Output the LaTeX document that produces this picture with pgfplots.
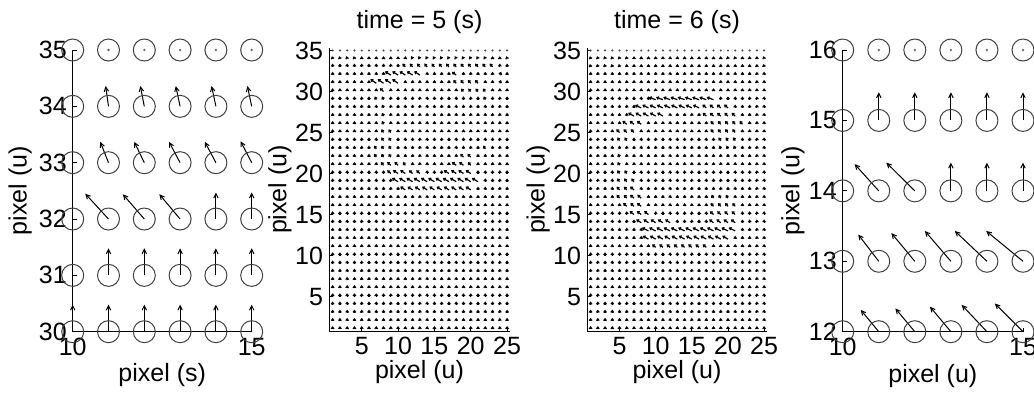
\documentclass[border=0pt]{standalone}
\usepackage{pgfplots}
\pgfplotsset{compat=1.18}
\usepackage{pgfplotstable}
\usepackage{fontspec}
\setmainfont{Liberation Sans}
\usetikzlibrary{arrows.meta}

\pgfplotsset{
  mat/.style={
    scale only axis,
    anchor=south west,
    axis lines*=left,
    tick pos=left,
    ticklabel pos=left,
    axis line style={line width=0.5pt},
    tick style={line width=0.4pt, black},
    major tick length=2pt,
    tick align=inside,
    clip=false,
    every axis title shift=0pt,
    /pgf/number format/assume math mode=true,
    tick label style={font=\fontsize{12.5}{14}\selectfont},
    label style={font=\fontsize{12.5}{14}\selectfont},
    title style={font=\fontsize{12.5}{14}\selectfont, at={(axis description cs:0.5,1.092)}, anchor=center},
    xticklabel style={inner sep=0pt, anchor=north, yshift=-3pt},
    yticklabel style={inner sep=0pt, anchor=east, xshift=-2.8pt},
  },
  circ/.style={only marks, mark=o, mark size=5.5pt, black!75, mark options={line width=0.5pt}},
  bigq/.style={quiver={u=\thisrow{u},v=\thisrow{v}}, -{Straight Barb[length=2.2pt,width=2.2pt]}, line width=0.5pt, black},
  smallq/.style={quiver={u=\thisrow{u},v=\thisrow{v}}, -{Straight Barb[length=0.9pt,width=1.4pt]}, line width=0.6pt, black},
}

% time = 5 field
\pgfplotstableread[row sep=\\]{x y u v\\
1 34 -.1 .3\\ 2 34 -.1 .3\\ 3 34 -.1 .3\\ 4 34 -.1 .3\\ 5 34 0 .3\\ 6 34 0 .3\\ 7 34 0 .3\\ 8 34 0 .3\\ 9 34 0 .3\\ 10 34 0 .3\\ 11 34 0 .3\\ 12 34 -.2 .3\\ 13 34 -.2 .3\\ 14 34 -.2 .3\\ 15 34 -.2 .3\\ 16 34 -.2 .3\\ 17 34 -.2 .3\\ 18 34 -.2 .3\\ 19 34 -.2 .3\\ 20 34 -.2 .3\\ 21 34 -.2 .3\\ 22 34 -.2 .3\\ 23 34 0 .3\\ 24 34 0 .3\\ 25 34 -.1 .3\\
1 33 0 .4\\ 2 33 0 .4\\ 3 33 0 .4\\ 4 33 0 .4\\ 5 33 0 .4\\ 6 33 0 .4\\ 7 33 0 .4\\ 8 33 0 .4\\ 9 33 0 .4\\ 10 33 0 .4\\ 11 33 -.4 .4\\ 12 33 -.4 .4\\ 13 33 -.4 .4\\ 14 33 -.4 .4\\ 15 33 -.4 .4\\ 16 33 -.4 .4\\ 17 33 -.4 .4\\ 18 33 -.4 .4\\ 19 33 -.4 .4\\ 20 33 -.4 .4\\ 21 33 -.4 .4\\ 22 33 -.4 .4\\ 23 33 -.4 .4\\ 24 33 0 .4\\ 25 33 0 .4\\
1 32 0 .4\\ 2 32 0 .4\\ 3 32 0 .4\\ 4 32 0 .4\\ 5 32 0 .4\\ 6 32 0 .4\\ 7 32 0 .4\\ 8 32 0 .4\\ 9 32 -.8 .45\\ 10 32 -.8 .45\\ 11 32 -.8 .45\\ 12 32 -.8 .45\\ 13 32 -.8 .45\\ 14 32 0 .4\\ 15 32 0 .4\\ 16 32 0 .4\\ 17 32 0 .4\\ 18 32 -.6 .4\\ 19 32 0 .4\\ 20 32 0 .4\\ 21 32 0 .4\\ 22 32 0 .4\\ 23 32 0 .4\\ 24 32 .2 .4\\ 25 32 0 .4\\
1 31 0 .4\\ 2 31 0 .4\\ 3 31 0 .4\\ 4 31 0 .4\\ 5 31 0 .4\\ 6 31 0 .4\\ 7 31 -.8 .5\\ 8 31 -.8 .5\\ 9 31 -.8 .5\\ 10 31 -.8 .5\\ 11 31 0 .4\\ 12 31 0 .4\\ 13 31 0 .4\\ 14 31 0 .4\\ 15 31 0 .4\\ 16 31 0 .4\\ 17 31 0 .4\\ 18 31 -.4 .4\\ 19 31 -.4 .4\\ 20 31 -.4 .4\\ 21 31 -.4 .4\\ 22 31 0 .4\\ 23 31 0 .4\\ 24 31 .15 .4\\ 25 31 0 .4\\
1 30 0 .4\\ 2 30 0 .4\\ 3 30 0 .4\\ 4 30 0 .4\\ 5 30 0 .4\\ 6 30 0 .4\\ 7 30 0 .4\\ 8 30 -.5 .4\\ 9 30 0 .4\\ 10 30 0 .4\\ 11 30 0 .4\\ 12 30 0 .4\\ 13 30 0 .4\\ 14 30 0 .4\\ 15 30 0 .4\\ 16 30 0 .4\\ 17 30 0 .4\\ 18 30 0 .4\\ 19 30 -.35 .35\\ 20 30 -.35 .35\\ 21 30 -.35 .35\\ 22 30 -.35 .35\\ 23 30 0 .4\\ 24 30 0 .4\\ 25 30 0 .4\\
1 29 0 .4\\ 2 29 0 .4\\ 3 29 0 .4\\ 4 29 0 .4\\ 5 29 0 .4\\ 6 29 0 .4\\ 7 29 -.2 .4\\ 8 29 -.2 .4\\ 9 29 0 .4\\ 10 29 0 .4\\ 11 29 0 .4\\ 12 29 0 .4\\ 13 29 0 .4\\ 14 29 0 .4\\ 15 29 0 .4\\ 16 29 0 .4\\ 17 29 0 .4\\ 18 29 0 .4\\ 19 29 0 .4\\ 20 29 0 .4\\ 21 29 0 .4\\ 22 29 -.2 .4\\ 23 29 0 .4\\ 24 29 0 .4\\ 25 29 0 .4\\
1 28 0 .4\\ 2 28 0 .4\\ 3 28 0 .4\\ 4 28 0 .4\\ 5 28 0 .4\\ 6 28 0 .4\\ 7 28 0 .4\\ 8 28 -.2 .4\\ 9 28 0 .4\\ 10 28 0 .4\\ 11 28 0 .4\\ 12 28 0 .4\\ 13 28 0 .4\\ 14 28 0 .4\\ 15 28 0 .4\\ 16 28 0 .4\\ 17 28 0 .4\\ 18 28 0 .4\\ 19 28 0 .4\\ 20 28 0 .4\\ 21 28 0 .4\\ 22 28 0 .4\\ 23 28 0 .4\\ 24 28 0 .4\\ 25 28 0 .4\\
1 27 0 .4\\ 2 27 0 .4\\ 3 27 0 .4\\ 4 27 0 .4\\ 5 27 0 .4\\ 6 27 0 .4\\ 7 27 0 .4\\ 8 27 -.2 .4\\ 9 27 0 .4\\ 10 27 0 .4\\ 11 27 0 .4\\ 12 27 0 .4\\ 13 27 0 .4\\ 14 27 0 .4\\ 15 27 0 .4\\ 16 27 0 .4\\ 17 27 0 .4\\ 18 27 0 .4\\ 19 27 0 .4\\ 20 27 0 .4\\ 21 27 0 .4\\ 22 27 0 .4\\ 23 27 0 .4\\ 24 27 0 .4\\ 25 27 0 .4\\
1 26 0 .4\\ 2 26 0 .4\\ 3 26 0 .4\\ 4 26 0 .4\\ 5 26 0 .4\\ 6 26 0 .4\\ 7 26 0 .4\\ 8 26 -.2 .4\\ 9 26 0 .4\\ 10 26 0 .4\\ 11 26 0 .4\\ 12 26 0 .4\\ 13 26 0 .4\\ 14 26 0 .4\\ 15 26 0 .4\\ 16 26 0 .4\\ 17 26 0 .4\\ 18 26 0 .4\\ 19 26 0 .4\\ 20 26 0 .4\\ 21 26 0 .4\\ 22 26 0 .4\\ 23 26 0 .4\\ 24 26 0 .4\\ 25 26 0 .4\\
1 25 0 .4\\ 2 25 0 .4\\ 3 25 0 .4\\ 4 25 0 .4\\ 5 25 0 .4\\ 6 25 0 .4\\ 7 25 0 .4\\ 8 25 -.3 .4\\ 9 25 -.3 .4\\ 10 25 0 .4\\ 11 25 0 .4\\ 12 25 0 .4\\ 13 25 0 .4\\ 14 25 0 .4\\ 15 25 0 .4\\ 16 25 0 .4\\ 17 25 0 .4\\ 18 25 0 .4\\ 19 25 0 .4\\ 20 25 0 .4\\ 21 25 0 .4\\ 22 25 0 .4\\ 23 25 0 .4\\ 24 25 0 .4\\ 25 25 0 .4\\
1 24 0 .4\\ 2 24 0 .4\\ 3 24 0 .4\\ 4 24 0 .4\\ 5 24 0 .4\\ 6 24 0 .4\\ 7 24 0 .4\\ 8 24 -.3 .4\\ 9 24 -.3 .4\\ 10 24 0 .4\\ 11 24 0 .4\\ 12 24 0 .4\\ 13 24 0 .4\\ 14 24 0 .4\\ 15 24 0 .4\\ 16 24 0 .4\\ 17 24 0 .4\\ 18 24 0 .4\\ 19 24 0 .4\\ 20 24 0 .4\\ 21 24 0 .4\\ 22 24 0 .4\\ 23 24 0 .4\\ 24 24 0 .4\\ 25 24 0 .4\\
1 23 0 .4\\ 2 23 0 .4\\ 3 23 0 .4\\ 4 23 0 .4\\ 5 23 0 .4\\ 6 23 0 .4\\ 7 23 -.3 .4\\ 8 23 -.3 .4\\ 9 23 -.3 .4\\ 10 23 0 .4\\ 11 23 0 .4\\ 12 23 0 .4\\ 13 23 0 .4\\ 14 23 0 .4\\ 15 23 0 .4\\ 16 23 0 .4\\ 17 23 0 .4\\ 18 23 0 .4\\ 19 23 0 .4\\ 20 23 0 .4\\ 21 23 0 .4\\ 22 23 -.3 .4\\ 23 23 0 .4\\ 24 23 0 .4\\ 25 23 0 .4\\
1 22 0 .4\\ 2 22 0 .4\\ 3 22 0 .4\\ 4 22 0 .4\\ 5 22 0 .4\\ 6 22 0 .4\\ 7 22 -.3 .4\\ 8 22 -.3 .4\\ 9 22 -.3 .4\\ 10 22 0 .4\\ 11 22 0 .4\\ 12 22 0 .4\\ 13 22 0 .4\\ 14 22 0 .4\\ 15 22 0 .4\\ 16 22 0 .4\\ 17 22 0 .4\\ 18 22 0 .4\\ 19 22 -.45 .4\\ 20 22 -.45 .4\\ 21 22 0 .4\\ 22 22 0 .4\\ 23 22 0 .4\\ 24 22 0 .4\\ 25 22 0 .4\\
1 21 0 .4\\ 2 21 0 .4\\ 3 21 0 .4\\ 4 21 0 .4\\ 5 21 0 .4\\ 6 21 0 .4\\ 7 21 0 .4\\ 8 21 -.35 .4\\ 9 21 -.5 .4\\ 10 21 -.5 .4\\ 11 21 -.35 .4\\ 12 21 0 .4\\ 13 21 0 .4\\ 14 21 0 .4\\ 15 21 0 .4\\ 16 21 0 .4\\ 17 21 0 .4\\ 18 21 -.6 .4\\ 19 21 -.6 .4\\ 20 21 -.4 .4\\ 21 21 0 .4\\ 22 21 0 .4\\ 23 21 0 .4\\ 24 21 0 .4\\ 25 21 0 .4\\
1 20 0 .4\\ 2 20 0 .4\\ 3 20 0 .4\\ 4 20 0 .4\\ 5 20 0 .4\\ 6 20 0 .4\\ 7 20 0 .4\\ 8 20 0 .4\\ 9 20 -.5 .4\\ 10 20 -.7 .4\\ 11 20 -.7 .4\\ 12 20 -.5 .4\\ 13 20 -.5 .4\\ 14 20 0 .4\\ 15 20 0 .4\\ 16 20 0 .4\\ 17 20 -.7 .4\\ 18 20 -.7 .4\\ 19 20 -.7 .4\\ 20 20 -.7 .4\\ 21 20 0 .4\\ 22 20 0 .4\\ 23 20 0 .4\\ 24 20 0 .4\\ 25 20 0 .4\\
1 19 0 .4\\ 2 19 0 .4\\ 3 19 0 .4\\ 4 19 0 .4\\ 5 19 0 .4\\ 6 19 0 .4\\ 7 19 0 .4\\ 8 19 0 .4\\ 9 19 0 .4\\ 10 19 -.85 .45\\ 11 19 -.85 .45\\ 12 19 -.85 .45\\ 13 19 -.85 .45\\ 14 19 -.85 .45\\ 15 19 -.85 .45\\ 16 19 -.85 .45\\ 17 19 -.85 .45\\ 18 19 -.85 .45\\ 19 19 -.85 .45\\ 20 19 -.85 .45\\ 21 19 -.85 .45\\ 22 19 0 .4\\ 23 19 0 .4\\ 24 19 0 .4\\ 25 19 0 .4\\
1 18 0 .4\\ 2 18 0 .4\\ 3 18 0 .4\\ 4 18 0 .4\\ 5 18 0 .4\\ 6 18 0 .4\\ 7 18 0 .4\\ 8 18 0 .4\\ 9 18 0 .4\\ 10 18 0 .4\\ 11 18 -.7 .4\\ 12 18 -.7 .4\\ 13 18 -.7 .4\\ 14 18 -.7 .4\\ 15 18 -.7 .4\\ 16 18 -.7 .4\\ 17 18 -.7 .4\\ 18 18 -.7 .4\\ 19 18 -.7 .4\\ 20 18 -.7 .4\\ 21 18 0 .4\\ 22 18 0 .4\\ 23 18 0 .4\\ 24 18 0 .4\\ 25 18 0 .4\\
1 17 0 .4\\ 2 17 0 .4\\ 3 17 0 .4\\ 4 17 0 .4\\ 5 17 0 .4\\ 6 17 0 .4\\ 7 17 0 .4\\ 8 17 0 .4\\ 9 17 0 .4\\ 10 17 0 .4\\ 11 17 0 .4\\ 12 17 0 .4\\ 13 17 0 .4\\ 14 17 0 .4\\ 15 17 0 .4\\ 16 17 0 .4\\ 17 17 0 .4\\ 18 17 0 .4\\ 19 17 0 .4\\ 20 17 0 .4\\ 21 17 0 .4\\ 22 17 0 .4\\ 23 17 0 .4\\ 24 17 0 .4\\ 25 17 0 .4\\
1 16 0 .4\\ 2 16 0 .4\\ 3 16 0 .4\\ 4 16 0 .4\\ 5 16 0 .4\\ 6 16 0 .4\\ 7 16 0 .4\\ 8 16 0 .4\\ 9 16 0 .4\\ 10 16 0 .4\\ 11 16 0 .4\\ 12 16 0 .4\\ 13 16 0 .4\\ 14 16 0 .4\\ 15 16 0 .4\\ 16 16 0 .4\\ 17 16 0 .4\\ 18 16 0 .4\\ 19 16 0 .4\\ 20 16 0 .4\\ 21 16 0 .4\\ 22 16 0 .4\\ 23 16 0 .4\\ 24 16 0 .4\\ 25 16 0 .4\\
1 15 0 .4\\ 2 15 0 .4\\ 3 15 0 .4\\ 4 15 0 .4\\ 5 15 0 .4\\ 6 15 0 .4\\ 7 15 0 .4\\ 8 15 0 .4\\ 9 15 0 .4\\ 10 15 0 .4\\ 11 15 0 .4\\ 12 15 0 .4\\ 13 15 0 .4\\ 14 15 0 .4\\ 15 15 0 .4\\ 16 15 0 .4\\ 17 15 0 .4\\ 18 15 0 .4\\ 19 15 0 .4\\ 20 15 0 .4\\ 21 15 0 .4\\ 22 15 0 .4\\ 23 15 0 .4\\ 24 15 0 .4\\ 25 15 0 .4\\
1 14 0 .4\\ 2 14 0 .4\\ 3 14 0 .4\\ 4 14 0 .4\\ 5 14 0 .4\\ 6 14 0 .4\\ 7 14 0 .4\\ 8 14 0 .4\\ 9 14 0 .4\\ 10 14 0 .4\\ 11 14 0 .4\\ 12 14 0 .4\\ 13 14 0 .4\\ 14 14 0 .4\\ 15 14 0 .4\\ 16 14 0 .4\\ 17 14 0 .4\\ 18 14 0 .4\\ 19 14 0 .4\\ 20 14 0 .4\\ 21 14 0 .4\\ 22 14 0 .4\\ 23 14 0 .4\\ 24 14 0 .4\\ 25 14 0 .4\\
1 13 0 .4\\ 2 13 0 .4\\ 3 13 0 .4\\ 4 13 0 .4\\ 5 13 0 .4\\ 6 13 0 .4\\ 7 13 0 .4\\ 8 13 0 .4\\ 9 13 0 .4\\ 10 13 0 .4\\ 11 13 0 .4\\ 12 13 0 .4\\ 13 13 0 .4\\ 14 13 0 .4\\ 15 13 0 .4\\ 16 13 0 .4\\ 17 13 0 .4\\ 18 13 0 .4\\ 19 13 0 .4\\ 20 13 0 .4\\ 21 13 0 .4\\ 22 13 0 .4\\ 23 13 0 .4\\ 24 13 0 .4\\ 25 13 0 .4\\
1 12 0 .4\\ 2 12 0 .4\\ 3 12 0 .4\\ 4 12 0 .4\\ 5 12 0 .4\\ 6 12 0 .4\\ 7 12 0 .4\\ 8 12 0 .4\\ 9 12 0 .4\\ 10 12 0 .4\\ 11 12 0 .4\\ 12 12 0 .4\\ 13 12 0 .4\\ 14 12 0 .4\\ 15 12 0 .4\\ 16 12 0 .4\\ 17 12 0 .4\\ 18 12 0 .4\\ 19 12 0 .4\\ 20 12 0 .4\\ 21 12 0 .4\\ 22 12 0 .4\\ 23 12 0 .4\\ 24 12 0 .4\\ 25 12 0 .4\\
1 11 0 .4\\ 2 11 0 .4\\ 3 11 0 .4\\ 4 11 0 .4\\ 5 11 0 .4\\ 6 11 0 .4\\ 7 11 0 .4\\ 8 11 0 .4\\ 9 11 0 .4\\ 10 11 0 .4\\ 11 11 0 .4\\ 12 11 0 .4\\ 13 11 0 .4\\ 14 11 0 .4\\ 15 11 0 .4\\ 16 11 0 .4\\ 17 11 0 .4\\ 18 11 0 .4\\ 19 11 0 .4\\ 20 11 0 .4\\ 21 11 0 .4\\ 22 11 0 .4\\ 23 11 0 .4\\ 24 11 0 .4\\ 25 11 0 .4\\
1 10 0 .4\\ 2 10 0 .4\\ 3 10 0 .4\\ 4 10 0 .4\\ 5 10 0 .4\\ 6 10 0 .4\\ 7 10 0 .4\\ 8 10 0 .4\\ 9 10 0 .4\\ 10 10 0 .4\\ 11 10 0 .4\\ 12 10 0 .4\\ 13 10 0 .4\\ 14 10 0 .4\\ 15 10 0 .4\\ 16 10 0 .4\\ 17 10 0 .4\\ 18 10 0 .4\\ 19 10 0 .4\\ 20 10 0 .4\\ 21 10 0 .4\\ 22 10 0 .4\\ 23 10 0 .4\\ 24 10 0 .4\\ 25 10 0 .4\\
1 9 0 .4\\ 2 9 0 .4\\ 3 9 0 .4\\ 4 9 0 .4\\ 5 9 0 .4\\ 6 9 0 .4\\ 7 9 0 .4\\ 8 9 0 .4\\ 9 9 0 .4\\ 10 9 0 .4\\ 11 9 0 .4\\ 12 9 0 .4\\ 13 9 0 .4\\ 14 9 0 .4\\ 15 9 0 .4\\ 16 9 0 .4\\ 17 9 0 .4\\ 18 9 0 .4\\ 19 9 0 .4\\ 20 9 0 .4\\ 21 9 0 .4\\ 22 9 0 .4\\ 23 9 0 .4\\ 24 9 0 .4\\ 25 9 0 .4\\
1 8 0 .4\\ 2 8 0 .4\\ 3 8 0 .4\\ 4 8 0 .4\\ 5 8 0 .4\\ 6 8 0 .4\\ 7 8 0 .4\\ 8 8 0 .4\\ 9 8 0 .4\\ 10 8 0 .4\\ 11 8 0 .4\\ 12 8 0 .4\\ 13 8 0 .4\\ 14 8 0 .4\\ 15 8 0 .4\\ 16 8 0 .4\\ 17 8 0 .4\\ 18 8 0 .4\\ 19 8 0 .4\\ 20 8 0 .4\\ 21 8 0 .4\\ 22 8 0 .4\\ 23 8 0 .4\\ 24 8 0 .4\\ 25 8 0 .4\\
1 7 0 .4\\ 2 7 0 .4\\ 3 7 0 .4\\ 4 7 0 .4\\ 5 7 0 .4\\ 6 7 0 .4\\ 7 7 0 .4\\ 8 7 0 .4\\ 9 7 0 .4\\ 10 7 0 .4\\ 11 7 0 .4\\ 12 7 0 .4\\ 13 7 0 .4\\ 14 7 0 .4\\ 15 7 0 .4\\ 16 7 0 .4\\ 17 7 0 .4\\ 18 7 0 .4\\ 19 7 0 .4\\ 20 7 0 .4\\ 21 7 0 .4\\ 22 7 0 .4\\ 23 7 0 .4\\ 24 7 0 .4\\ 25 7 0 .4\\
1 6 0 .4\\ 2 6 0 .4\\ 3 6 0 .4\\ 4 6 0 .4\\ 5 6 0 .4\\ 6 6 0 .4\\ 7 6 0 .4\\ 8 6 0 .4\\ 9 6 0 .4\\ 10 6 0 .4\\ 11 6 0 .4\\ 12 6 0 .4\\ 13 6 0 .4\\ 14 6 0 .4\\ 15 6 0 .4\\ 16 6 0 .4\\ 17 6 0 .4\\ 18 6 0 .4\\ 19 6 0 .4\\ 20 6 0 .4\\ 21 6 0 .4\\ 22 6 0 .4\\ 23 6 0 .4\\ 24 6 0 .4\\ 25 6 0 .4\\
1 5 0 .4\\ 2 5 0 .4\\ 3 5 0 .4\\ 4 5 0 .4\\ 5 5 0 .4\\ 6 5 0 .4\\ 7 5 0 .4\\ 8 5 0 .4\\ 9 5 0 .4\\ 10 5 0 .4\\ 11 5 0 .4\\ 12 5 0 .4\\ 13 5 0 .4\\ 14 5 0 .4\\ 15 5 0 .4\\ 16 5 0 .4\\ 17 5 0 .4\\ 18 5 0 .4\\ 19 5 0 .4\\ 20 5 0 .4\\ 21 5 0 .4\\ 22 5 0 .4\\ 23 5 0 .4\\ 24 5 0 .4\\ 25 5 0 .4\\
1 4 0 .4\\ 2 4 0 .4\\ 3 4 0 .4\\ 4 4 0 .4\\ 5 4 0 .4\\ 6 4 0 .4\\ 7 4 0 .4\\ 8 4 0 .4\\ 9 4 0 .4\\ 10 4 0 .4\\ 11 4 0 .4\\ 12 4 0 .4\\ 13 4 0 .4\\ 14 4 0 .4\\ 15 4 0 .4\\ 16 4 0 .4\\ 17 4 0 .4\\ 18 4 0 .4\\ 19 4 0 .4\\ 20 4 0 .4\\ 21 4 0 .4\\ 22 4 0 .4\\ 23 4 0 .4\\ 24 4 0 .4\\ 25 4 0 .4\\
1 3 0 .4\\ 2 3 0 .4\\ 3 3 0 .4\\ 4 3 0 .4\\ 5 3 0 .4\\ 6 3 0 .4\\ 7 3 0 .4\\ 8 3 0 .4\\ 9 3 0 .4\\ 10 3 0 .4\\ 11 3 0 .4\\ 12 3 0 .4\\ 13 3 0 .4\\ 14 3 0 .4\\ 15 3 0 .4\\ 16 3 0 .4\\ 17 3 0 .4\\ 18 3 0 .4\\ 19 3 0 .4\\ 20 3 0 .4\\ 21 3 0 .4\\ 22 3 0 .4\\ 23 3 0 .4\\ 24 3 0 .4\\ 25 3 0 .4\\
1 2 0 .4\\ 2 2 0 .4\\ 3 2 0 .4\\ 4 2 0 .4\\ 5 2 0 .4\\ 6 2 0 .4\\ 7 2 0 .4\\ 8 2 0 .4\\ 9 2 0 .4\\ 10 2 0 .4\\ 11 2 0 .4\\ 12 2 0 .4\\ 13 2 0 .4\\ 14 2 0 .4\\ 15 2 0 .4\\ 16 2 0 .4\\ 17 2 0 .4\\ 18 2 0 .4\\ 19 2 0 .4\\ 20 2 0 .4\\ 21 2 0 .4\\ 22 2 0 .4\\ 23 2 0 .4\\ 24 2 0 .4\\ 25 2 0 .4\\
1 1 0 .4\\ 2 1 0 .4\\ 3 1 0 .4\\ 4 1 0 .4\\ 5 1 0 .4\\ 6 1 0 .4\\ 7 1 0 .4\\ 8 1 0 .4\\ 9 1 0 .4\\ 10 1 0 .4\\ 11 1 0 .4\\ 12 1 0 .4\\ 13 1 0 .4\\ 14 1 0 .4\\ 15 1 0 .4\\ 16 1 0 .4\\ 17 1 0 .4\\ 18 1 0 .4\\ 19 1 0 .4\\ 20 1 0 .4\\ 21 1 0 .4\\ 22 1 0 .4\\ 23 1 0 .4\\ 24 1 0 .4\\ 25 1 0 .4\\
}\tfive

% time = 6 field
\pgfplotstableread[row sep=\\]{x y u v\\
1 34 -.1 .3\\ 2 34 -.1 .3\\ 3 34 -.1 .3\\ 4 34 -.1 .3\\ 5 34 -.1 .3\\ 6 34 -.1 .3\\ 7 34 0 .3\\ 8 34 0 .3\\ 9 34 0 .3\\ 10 34 0 .3\\ 11 34 0 .3\\ 12 34 0 .3\\ 13 34 0 .3\\ 14 34 0 .3\\ 15 34 0 .3\\ 16 34 0 .3\\ 17 34 0 .3\\ 18 34 0 .3\\ 19 34 0 .3\\ 20 34 -.1 .3\\ 21 34 -.1 .3\\ 22 34 0 .3\\ 23 34 0 .3\\ 24 34 0 .3\\ 25 34 -.1 .3\\
1 33 -.1 .35\\ 2 33 -.1 .35\\ 3 33 -.1 .35\\ 4 33 -.1 .35\\ 5 33 -.1 .35\\ 6 33 0 .35\\ 7 33 0 .35\\ 8 33 0 .35\\ 9 33 0 .35\\ 10 33 0 .35\\ 11 33 0 .35\\ 12 33 0 .35\\ 13 33 0 .35\\ 14 33 0 .35\\ 15 33 0 .35\\ 16 33 0 .35\\ 17 33 0 .35\\ 18 33 0 .35\\ 19 33 0 .35\\ 20 33 0 .35\\ 21 33 0 .35\\ 22 33 0 .35\\ 23 33 0 .35\\ 24 33 0 .35\\ 25 33 -.1 .35\\
1 32 0 .4\\ 2 32 0 .4\\ 3 32 0 .4\\ 4 32 0 .4\\ 5 32 0 .4\\ 6 32 0 .4\\ 7 32 0 .4\\ 8 32 0 .4\\ 9 32 0 .4\\ 10 32 0 .4\\ 11 32 0 .4\\ 12 32 0 .4\\ 13 32 0 .4\\ 14 32 0 .4\\ 15 32 0 .4\\ 16 32 0 .4\\ 17 32 0 .4\\ 18 32 0 .4\\ 19 32 0 .4\\ 20 32 0 .4\\ 21 32 0 .4\\ 22 32 0 .4\\ 23 32 0 .4\\ 24 32 0 .4\\ 25 32 0 .4\\
1 31 0 .4\\ 2 31 0 .4\\ 3 31 0 .4\\ 4 31 0 .4\\ 5 31 0 .4\\ 6 31 0 .4\\ 7 31 0 .4\\ 8 31 0 .4\\ 9 31 0 .4\\ 10 31 0 .4\\ 11 31 0 .4\\ 12 31 0 .4\\ 13 31 0 .4\\ 14 31 0 .4\\ 15 31 0 .4\\ 16 31 0 .4\\ 17 31 0 .4\\ 18 31 0 .4\\ 19 31 0 .4\\ 20 31 0 .4\\ 21 31 0 .4\\ 22 31 0 .4\\ 23 31 0 .4\\ 24 31 0 .4\\ 25 31 0 .4\\
1 30 0 .4\\ 2 30 0 .4\\ 3 30 0 .4\\ 4 30 0 .4\\ 5 30 0 .4\\ 6 30 0 .4\\ 7 30 0 .4\\ 8 30 0 .4\\ 9 30 0 .4\\ 10 30 0 .4\\ 11 30 0 .4\\ 12 30 0 .4\\ 13 30 0 .4\\ 14 30 0 .4\\ 15 30 0 .4\\ 16 30 0 .4\\ 17 30 0 .4\\ 18 30 0 .4\\ 19 30 0 .4\\ 20 30 0 .4\\ 21 30 0 .4\\ 22 30 0 .4\\ 23 30 0 .4\\ 24 30 0 .4\\ 25 30 0 .4\\
1 29 0 .4\\ 2 29 0 .4\\ 3 29 0 .4\\ 4 29 0 .4\\ 5 29 0 .4\\ 6 29 0 .4\\ 7 29 0 .4\\ 8 29 0 .4\\ 9 29 0 .4\\ 10 29 -.95 .3\\ 11 29 -.95 .3\\ 12 29 -.95 .3\\ 13 29 -.95 .3\\ 14 29 -.95 .3\\ 15 29 -.95 .3\\ 16 29 -.95 .3\\ 17 29 -.95 .3\\ 18 29 -.95 .3\\ 19 29 0 .4\\ 20 29 0 .4\\ 21 29 0 .4\\ 22 29 0 .4\\ 23 29 0 .4\\ 24 29 0 .4\\ 25 29 0 .4\\
1 28 0 .4\\ 2 28 0 .4\\ 3 28 0 .4\\ 4 28 0 .4\\ 5 28 0 .4\\ 6 28 0 .4\\ 7 28 0 .4\\ 8 28 -.85 .35\\ 9 28 -.85 .35\\ 10 28 -.85 .35\\ 11 28 -.85 .35\\ 12 28 -.85 .35\\ 13 28 -.85 .35\\ 14 28 -.85 .35\\ 15 28 -.85 .35\\ 16 28 -.85 .35\\ 17 28 -.55 .4\\ 18 28 -.55 .4\\ 19 28 -.55 .4\\ 20 28 -.55 .4\\ 21 28 0 .4\\ 22 28 0 .4\\ 23 28 0 .4\\ 24 28 0 .4\\ 25 28 0 .4\\
1 27 0 .4\\ 2 27 0 .4\\ 3 27 0 .4\\ 4 27 0 .4\\ 5 27 0 .4\\ 6 27 0 .4\\ 7 27 -.8 .4\\ 8 27 -.8 .4\\ 9 27 -.8 .4\\ 10 27 -.8 .4\\ 11 27 -.8 .4\\ 12 27 0 .4\\ 13 27 0 .4\\ 14 27 0 .4\\ 15 27 0 .4\\ 16 27 0 .4\\ 17 27 -.5 .4\\ 18 27 -.5 .4\\ 19 27 -.5 .4\\ 20 27 -.5 .4\\ 21 27 -.5 .4\\ 22 27 0 .4\\ 23 27 0 .4\\ 24 27 0 .4\\ 25 27 0 .4\\
1 26 0 .4\\ 2 26 0 .4\\ 3 26 0 .4\\ 4 26 0 .4\\ 5 26 0 .4\\ 6 26 -.6 .4\\ 7 26 -.6 .4\\ 8 26 -.6 .4\\ 9 26 0 .4\\ 10 26 0 .4\\ 11 26 0 .4\\ 12 26 0 .4\\ 13 26 0 .4\\ 14 26 0 .4\\ 15 26 0 .4\\ 16 26 0 .4\\ 17 26 0 .4\\ 18 26 -.4 .4\\ 19 26 -.4 .4\\ 20 26 -.4 .4\\ 21 26 -.4 .4\\ 22 26 -.4 .4\\ 23 26 0 .4\\ 24 26 0 .4\\ 25 26 0 .4\\
1 25 0 .4\\ 2 25 0 .4\\ 3 25 0 .4\\ 4 25 0 .4\\ 5 25 -.45 .4\\ 6 25 -.45 .4\\ 7 25 -.45 .4\\ 8 25 0 .4\\ 9 25 0 .4\\ 10 25 0 .4\\ 11 25 0 .4\\ 12 25 0 .4\\ 13 25 0 .4\\ 14 25 0 .4\\ 15 25 0 .4\\ 16 25 0 .4\\ 17 25 0 .4\\ 18 25 -.4 .4\\ 19 25 -.4 .4\\ 20 25 -.4 .4\\ 21 25 -.4 .4\\ 22 25 0 .4\\ 23 25 0 .4\\ 24 25 0 .4\\ 25 25 0 .4\\
1 24 0 .4\\ 2 24 0 .4\\ 3 24 0 .4\\ 4 24 0 .4\\ 5 24 -.3 .4\\ 6 24 -.3 .4\\ 7 24 0 .4\\ 8 24 0 .4\\ 9 24 0 .4\\ 10 24 0 .4\\ 11 24 0 .4\\ 12 24 0 .4\\ 13 24 0 .4\\ 14 24 0 .4\\ 15 24 0 .4\\ 16 24 0 .4\\ 17 24 0 .4\\ 18 24 0 .4\\ 19 24 -.3 .4\\ 20 24 -.3 .4\\ 21 24 -.3 .4\\ 22 24 0 .4\\ 23 24 0 .4\\ 24 24 0 .4\\ 25 24 0 .4\\
1 23 0 .4\\ 2 23 0 .4\\ 3 23 0 .4\\ 4 23 0 .4\\ 5 23 0 .4\\ 6 23 0 .4\\ 7 23 0 .4\\ 8 23 0 .4\\ 9 23 0 .4\\ 10 23 0 .4\\ 11 23 0 .4\\ 12 23 0 .4\\ 13 23 0 .4\\ 14 23 0 .4\\ 15 23 0 .4\\ 16 23 0 .4\\ 17 23 0 .4\\ 18 23 0 .4\\ 19 23 -.2 .4\\ 20 23 -.2 .4\\ 21 23 -.2 .4\\ 22 23 0 .4\\ 23 23 0 .4\\ 24 23 0 .4\\ 25 23 0 .4\\
1 22 0 .4\\ 2 22 0 .4\\ 3 22 0 .4\\ 4 22 0 .4\\ 5 22 -.2 .4\\ 6 22 0 .4\\ 7 22 0 .4\\ 8 22 0 .4\\ 9 22 0 .4\\ 10 22 0 .4\\ 11 22 0 .4\\ 12 22 0 .4\\ 13 22 0 .4\\ 14 22 0 .4\\ 15 22 0 .4\\ 16 22 0 .4\\ 17 22 0 .4\\ 18 22 0 .4\\ 19 22 0 .4\\ 20 22 0 .4\\ 21 22 0 .4\\ 22 22 0 .4\\ 23 22 0 .4\\ 24 22 0 .4\\ 25 22 0 .4\\
1 21 0 .4\\ 2 21 0 .4\\ 3 21 0 .4\\ 4 21 0 .4\\ 5 21 -.25 .4\\ 6 21 0 .4\\ 7 21 0 .4\\ 8 21 0 .4\\ 9 21 0 .4\\ 10 21 0 .4\\ 11 21 0 .4\\ 12 21 0 .4\\ 13 21 0 .4\\ 14 21 0 .4\\ 15 21 0 .4\\ 16 21 0 .4\\ 17 21 0 .4\\ 18 21 0 .4\\ 19 21 0 .4\\ 20 21 0 .4\\ 21 21 0 .4\\ 22 21 0 .4\\ 23 21 0 .4\\ 24 21 0 .4\\ 25 21 0 .4\\
1 20 0 .4\\ 2 20 0 .4\\ 3 20 0 .4\\ 4 20 0 .4\\ 5 20 -.3 .4\\ 6 20 -.3 .4\\ 7 20 0 .4\\ 8 20 0 .4\\ 9 20 0 .4\\ 10 20 0 .4\\ 11 20 0 .4\\ 12 20 0 .4\\ 13 20 0 .4\\ 14 20 0 .4\\ 15 20 0 .4\\ 16 20 0 .4\\ 17 20 0 .4\\ 18 20 0 .4\\ 19 20 0 .4\\ 20 20 0 .4\\ 21 20 0 .4\\ 22 20 0 .4\\ 23 20 0 .4\\ 24 20 0 .4\\ 25 20 0 .4\\
1 19 0 .4\\ 2 19 0 .4\\ 3 19 0 .4\\ 4 19 0 .4\\ 5 19 -.35 .4\\ 6 19 -.35 .4\\ 7 19 -.35 .4\\ 8 19 0 .4\\ 9 19 0 .4\\ 10 19 0 .4\\ 11 19 0 .4\\ 12 19 0 .4\\ 13 19 0 .4\\ 14 19 0 .4\\ 15 19 0 .4\\ 16 19 0 .4\\ 17 19 0 .4\\ 18 19 0 .4\\ 19 19 0 .4\\ 20 19 0 .4\\ 21 19 0 .4\\ 22 19 0 .4\\ 23 19 0 .4\\ 24 19 0 .4\\ 25 19 0 .4\\
1 18 0 .4\\ 2 18 0 .4\\ 3 18 0 .4\\ 4 18 0 .4\\ 5 18 -.4 .4\\ 6 18 -.4 .4\\ 7 18 -.55 .4\\ 8 18 0 .4\\ 9 18 0 .4\\ 10 18 0 .4\\ 11 18 0 .4\\ 12 18 0 .4\\ 13 18 0 .4\\ 14 18 0 .4\\ 15 18 0 .4\\ 16 18 0 .4\\ 17 18 0 .4\\ 18 18 0 .4\\ 19 18 0 .4\\ 20 18 0 .4\\ 21 18 0 .4\\ 22 18 0 .4\\ 23 18 0 .4\\ 24 18 0 .4\\ 25 18 0 .4\\
1 17 0 .4\\ 2 17 0 .4\\ 3 17 0 .4\\ 4 17 0 .4\\ 5 17 -.4 .4\\ 6 17 -.4 .4\\ 7 17 -.55 .4\\ 8 17 -.55 .4\\ 9 17 0 .4\\ 10 17 0 .4\\ 11 17 0 .4\\ 12 17 0 .4\\ 13 17 0 .4\\ 14 17 0 .4\\ 15 17 0 .4\\ 16 17 0 .4\\ 17 17 0 .4\\ 18 17 -.3 .4\\ 19 17 -.3 .4\\ 20 17 -.3 .4\\ 21 17 0 .4\\ 22 17 0 .4\\ 23 17 0 .4\\ 24 17 0 .4\\ 25 17 0 .4\\
1 16 0 .4\\ 2 16 0 .4\\ 3 16 0 .4\\ 4 16 0 .4\\ 5 16 0 .4\\ 6 16 -.5 .4\\ 7 16 -.5 .4\\ 8 16 -.6 .4\\ 9 16 0 .4\\ 10 16 0 .4\\ 11 16 0 .4\\ 12 16 0 .4\\ 13 16 0 .4\\ 14 16 0 .4\\ 15 16 0 .4\\ 16 16 0 .4\\ 17 16 0 .4\\ 18 16 -.4 .4\\ 19 16 -.4 .4\\ 20 16 -.4 .4\\ 21 16 -.4 .4\\ 22 16 0 .4\\ 23 16 0 .4\\ 24 16 0 .4\\ 25 16 0 .4\\
1 15 0 .4\\ 2 15 0 .4\\ 3 15 0 .4\\ 4 15 0 .4\\ 5 15 0 .4\\ 6 15 0 .4\\ 7 15 -.6 .4\\ 8 15 -.6 .4\\ 9 15 -.6 .4\\ 10 15 0 .4\\ 11 15 0 .4\\ 12 15 0 .4\\ 13 15 0 .4\\ 14 15 0 .4\\ 15 15 0 .4\\ 16 15 0 .4\\ 17 15 0 .4\\ 18 15 -.5 .4\\ 19 15 -.5 .4\\ 20 15 -.5 .4\\ 21 15 -.5 .4\\ 22 15 0 .4\\ 23 15 0 .4\\ 24 15 0 .4\\ 25 15 0 .4\\
1 14 0 .4\\ 2 14 0 .4\\ 3 14 0 .4\\ 4 14 0 .4\\ 5 14 0 .4\\ 6 14 0 .4\\ 7 14 0 .4\\ 8 14 -.7 .4\\ 9 14 -.7 .4\\ 10 14 -.7 .4\\ 11 14 -.7 .4\\ 12 14 -.7 .4\\ 13 14 0 .4\\ 14 14 0 .4\\ 15 14 0 .4\\ 16 14 0 .4\\ 17 14 0 .4\\ 18 14 -.6 .4\\ 19 14 -.6 .4\\ 20 14 -.6 .4\\ 21 14 -.6 .4\\ 22 14 0 .4\\ 23 14 0 .4\\ 24 14 0 .4\\ 25 14 0 .4\\
1 13 0 .4\\ 2 13 0 .4\\ 3 13 0 .4\\ 4 13 0 .4\\ 5 13 0 .4\\ 6 13 0 .4\\ 7 13 0 .4\\ 8 13 0 .4\\ 9 13 -.9 .4\\ 10 13 -.9 .4\\ 11 13 -.9 .4\\ 12 13 -.9 .4\\ 13 13 -.9 .4\\ 14 13 -.9 .4\\ 15 13 -.9 .4\\ 16 13 -.9 .4\\ 17 13 -.9 .4\\ 18 13 -.9 .4\\ 19 13 -.9 .4\\ 20 13 -.9 .4\\ 21 13 -.9 .4\\ 22 13 0 .4\\ 23 13 0 .4\\ 24 13 0 .4\\ 25 13 0 .4\\
1 12 0 .4\\ 2 12 0 .4\\ 3 12 0 .4\\ 4 12 0 .4\\ 5 12 0 .4\\ 6 12 0 .4\\ 7 12 0 .4\\ 8 12 0 .4\\ 9 12 -.8 .4\\ 10 12 -.8 .4\\ 11 12 -.8 .4\\ 12 12 -.8 .4\\ 13 12 -.8 .4\\ 14 12 -.8 .4\\ 15 12 -.8 .4\\ 16 12 -.8 .4\\ 17 12 -.8 .4\\ 18 12 -.8 .4\\ 19 12 -.8 .4\\ 20 12 -.8 .4\\ 21 12 0 .4\\ 22 12 0 .4\\ 23 12 0 .4\\ 24 12 0 .4\\ 25 12 0 .4\\
1 11 0 .4\\ 2 11 0 .4\\ 3 11 0 .4\\ 4 11 0 .4\\ 5 11 0 .4\\ 6 11 0 .4\\ 7 11 0 .4\\ 8 11 0 .4\\ 9 11 0 .4\\ 10 11 -.5 .35\\ 11 11 -.5 .35\\ 12 11 -.5 .35\\ 13 11 -.5 .35\\ 14 11 -.5 .35\\ 15 11 -.5 .35\\ 16 11 -.5 .35\\ 17 11 -.5 .35\\ 18 11 0 .4\\ 19 11 0 .4\\ 20 11 0 .4\\ 21 11 0 .4\\ 22 11 0 .4\\ 23 11 0 .4\\ 24 11 0 .4\\ 25 11 0 .4\\
1 10 0 .4\\ 2 10 0 .4\\ 3 10 0 .4\\ 4 10 0 .4\\ 5 10 0 .4\\ 6 10 0 .4\\ 7 10 0 .4\\ 8 10 0 .4\\ 9 10 0 .4\\ 10 10 0 .4\\ 11 10 0 .4\\ 12 10 0 .4\\ 13 10 0 .4\\ 14 10 0 .4\\ 15 10 0 .4\\ 16 10 0 .4\\ 17 10 0 .4\\ 18 10 0 .4\\ 19 10 0 .4\\ 20 10 0 .4\\ 21 10 0 .4\\ 22 10 0 .4\\ 23 10 0 .4\\ 24 10 0 .4\\ 25 10 0 .4\\
1 9 0 .4\\ 2 9 0 .4\\ 3 9 0 .4\\ 4 9 0 .4\\ 5 9 0 .4\\ 6 9 0 .4\\ 7 9 0 .4\\ 8 9 0 .4\\ 9 9 0 .4\\ 10 9 0 .4\\ 11 9 0 .4\\ 12 9 0 .4\\ 13 9 0 .4\\ 14 9 0 .4\\ 15 9 0 .4\\ 16 9 0 .4\\ 17 9 0 .4\\ 18 9 0 .4\\ 19 9 0 .4\\ 20 9 0 .4\\ 21 9 0 .4\\ 22 9 0 .4\\ 23 9 0 .4\\ 24 9 0 .4\\ 25 9 0 .4\\
1 8 0 .4\\ 2 8 0 .4\\ 3 8 0 .4\\ 4 8 0 .4\\ 5 8 0 .4\\ 6 8 0 .4\\ 7 8 0 .4\\ 8 8 0 .4\\ 9 8 0 .4\\ 10 8 0 .4\\ 11 8 0 .4\\ 12 8 0 .4\\ 13 8 0 .4\\ 14 8 0 .4\\ 15 8 0 .4\\ 16 8 0 .4\\ 17 8 0 .4\\ 18 8 0 .4\\ 19 8 0 .4\\ 20 8 0 .4\\ 21 8 0 .4\\ 22 8 0 .4\\ 23 8 0 .4\\ 24 8 0 .4\\ 25 8 0 .4\\
1 7 0 .4\\ 2 7 0 .4\\ 3 7 0 .4\\ 4 7 0 .4\\ 5 7 0 .4\\ 6 7 0 .4\\ 7 7 0 .4\\ 8 7 0 .4\\ 9 7 0 .4\\ 10 7 0 .4\\ 11 7 0 .4\\ 12 7 0 .4\\ 13 7 0 .4\\ 14 7 0 .4\\ 15 7 0 .4\\ 16 7 0 .4\\ 17 7 0 .4\\ 18 7 0 .4\\ 19 7 0 .4\\ 20 7 0 .4\\ 21 7 0 .4\\ 22 7 0 .4\\ 23 7 0 .4\\ 24 7 0 .4\\ 25 7 0 .4\\
1 6 0 .4\\ 2 6 0 .4\\ 3 6 0 .4\\ 4 6 0 .4\\ 5 6 0 .4\\ 6 6 0 .4\\ 7 6 0 .4\\ 8 6 0 .4\\ 9 6 0 .4\\ 10 6 0 .4\\ 11 6 0 .4\\ 12 6 0 .4\\ 13 6 0 .4\\ 14 6 0 .4\\ 15 6 0 .4\\ 16 6 0 .4\\ 17 6 0 .4\\ 18 6 0 .4\\ 19 6 0 .4\\ 20 6 0 .4\\ 21 6 0 .4\\ 22 6 0 .4\\ 23 6 0 .4\\ 24 6 0 .4\\ 25 6 0 .4\\
1 5 0 .4\\ 2 5 0 .4\\ 3 5 0 .4\\ 4 5 0 .4\\ 5 5 0 .4\\ 6 5 0 .4\\ 7 5 0 .4\\ 8 5 0 .4\\ 9 5 0 .4\\ 10 5 0 .4\\ 11 5 0 .4\\ 12 5 0 .4\\ 13 5 0 .4\\ 14 5 0 .4\\ 15 5 0 .4\\ 16 5 0 .4\\ 17 5 0 .4\\ 18 5 0 .4\\ 19 5 0 .4\\ 20 5 0 .4\\ 21 5 0 .4\\ 22 5 0 .4\\ 23 5 0 .4\\ 24 5 0 .4\\ 25 5 0 .4\\
1 4 0 .4\\ 2 4 0 .4\\ 3 4 0 .4\\ 4 4 0 .4\\ 5 4 0 .4\\ 6 4 0 .4\\ 7 4 0 .4\\ 8 4 0 .4\\ 9 4 0 .4\\ 10 4 0 .4\\ 11 4 0 .4\\ 12 4 0 .4\\ 13 4 0 .4\\ 14 4 0 .4\\ 15 4 0 .4\\ 16 4 0 .4\\ 17 4 0 .4\\ 18 4 0 .4\\ 19 4 0 .4\\ 20 4 0 .4\\ 21 4 0 .4\\ 22 4 0 .4\\ 23 4 0 .4\\ 24 4 0 .4\\ 25 4 0 .4\\
1 3 0 .4\\ 2 3 0 .4\\ 3 3 0 .4\\ 4 3 0 .4\\ 5 3 0 .4\\ 6 3 0 .4\\ 7 3 0 .4\\ 8 3 0 .4\\ 9 3 0 .4\\ 10 3 0 .4\\ 11 3 0 .4\\ 12 3 0 .4\\ 13 3 0 .4\\ 14 3 0 .4\\ 15 3 0 .4\\ 16 3 0 .4\\ 17 3 0 .4\\ 18 3 0 .4\\ 19 3 0 .4\\ 20 3 0 .4\\ 21 3 0 .4\\ 22 3 0 .4\\ 23 3 0 .4\\ 24 3 0 .4\\ 25 3 0 .4\\
1 2 0 .4\\ 2 2 0 .4\\ 3 2 0 .4\\ 4 2 0 .4\\ 5 2 0 .4\\ 6 2 0 .4\\ 7 2 0 .4\\ 8 2 0 .4\\ 9 2 0 .4\\ 10 2 0 .4\\ 11 2 0 .4\\ 12 2 0 .4\\ 13 2 0 .4\\ 14 2 0 .4\\ 15 2 0 .4\\ 16 2 0 .4\\ 17 2 0 .4\\ 18 2 0 .4\\ 19 2 0 .4\\ 20 2 0 .4\\ 21 2 0 .4\\ 22 2 0 .4\\ 23 2 0 .4\\ 24 2 0 .4\\ 25 2 0 .4\\
1 1 0 .4\\ 2 1 0 .4\\ 3 1 0 .4\\ 4 1 0 .4\\ 5 1 0 .4\\ 6 1 0 .4\\ 7 1 0 .4\\ 8 1 0 .4\\ 9 1 0 .4\\ 10 1 0 .4\\ 11 1 0 .4\\ 12 1 0 .4\\ 13 1 0 .4\\ 14 1 0 .4\\ 15 1 0 .4\\ 16 1 0 .4\\ 17 1 0 .4\\ 18 1 0 .4\\ 19 1 0 .4\\ 20 1 0 .4\\ 21 1 0 .4\\ 22 1 0 .4\\ 23 1 0 .4\\ 24 1 0 .4\\ 25 1 0 .4\\
}\tsix

\begin{document}
\begin{tikzpicture}
\useasboundingbox (0,0) rectangle (517pt,196pt);

% ---------- subplot 1 ----------
\begin{axis}[mat, at={(36.35pt,30.15pt)}, width=89.5pt, height=140.85pt,
  xmin=10, xmax=15, ymin=30, ymax=35, xtick={10,15}, ytick={30,31,32,33,34,35},
  xlabel={pixel (s)}, ylabel={pixel (u)},
  xlabel style={at={(axis description cs:0.5,-0.153)}, anchor=center},
  ylabel style={at={(axis description cs:-0.294,0.5)}, anchor=center}]
\addplot[circ] table {
x y
10 30
11 30
12 30
13 30
14 30
15 30
10 31
11 31
12 31
13 31
14 31
15 31
10 32
11 32
12 32
13 32
14 32
15 32
10 33
11 33
12 33
13 33
14 33
15 33
10 34
11 34
12 34
13 34
14 34
15 34
10 35
11 35
12 35
13 35
14 35
15 35
};
\addplot[only marks, mark=*, mark size=0.35pt, black!60] coordinates {(11,35) (12,35) (13,35) (14,35) (15,35)};
\addplot[bigq] table {
x y u v
10 30 0 .48
11 30 0 .48
12 30 0 .48
13 30 0 .48
14 30 0 .48
15 30 0 .48
11 31 0 .48
12 31 0 .48
13 31 0 .48
14 31 0 .48
15 31 0 .48
11 32 -.65 .45
12 32 -.6 .44
13 32 -.58 .44
14 32 0 .47
15 32 0 .47
11 33 -.23 .37
12 33 -.28 .37
13 33 -.31 .37
14 33 -.31 .37
15 33 -.31 .38
11 34 -.08 .36
12 34 -.11 .36
13 34 -.12 .36
14 34 -.12 .36
15 34 -.12 .36
};
\end{axis}

% ---------- subplot 2 ----------
\begin{axis}[mat, at={(164.5pt,30.5pt)}, width=90.5pt, height=141.5pt,
  xmin=0.5, xmax=25.4, ymin=0.8, ymax=35.3,
  xtick={5,10,15,20,25}, ytick={5,10,15,20,25,30,35},
  title={time = 5 (s)}, xlabel={pixel (u)}, ylabel={pixel (u)},
  xlabel style={at={(axis description cs:0.5,-0.145)}, anchor=center},
  ylabel style={at={(axis description cs:-0.271,0.5)}, anchor=center}]
\addplot[smallq] table {\tfive};
\addplot[only marks, mark=*, mark size=0.3pt, black!70] coordinates {(1,35) (2,35) (3,35) (4,35) (5,35) (6,35) (7,35) (8,35) (9,35) (10,35) (11,35) (12,35) (13,35) (14,35) (15,35) (16,35) (17,35) (18,35) (19,35) (20,35) (21,35) (22,35) (23,35) (24,35) (25,35)};
\end{axis}

% ---------- subplot 3 ----------
\begin{axis}[mat, at={(293.5pt,30.5pt)}, width=90pt, height=141.5pt,
  xmin=0.5, xmax=25.4, ymin=0.8, ymax=35.3,
  xtick={5,10,15,20,25}, ytick={5,10,15,20,25,30,35},
  title={time = 6 (s)}, xlabel={pixel (u)}, ylabel={pixel (u)},
  xlabel style={at={(axis description cs:0.5,-0.145)}, anchor=center},
  ylabel style={at={(axis description cs:-0.272,0.5)}, anchor=center}]
\addplot[smallq] table {\tsix};
\addplot[only marks, mark=*, mark size=0.3pt, black!70] coordinates {(1,35) (2,35) (3,35) (4,35) (5,35) (6,35) (7,35) (8,35) (9,35) (10,35) (11,35) (12,35) (13,35) (14,35) (15,35) (16,35) (17,35) (18,35) (19,35) (20,35) (21,35) (22,35) (23,35) (24,35) (25,35)};
\end{axis}

% ---------- subplot 4 ----------
\begin{axis}[mat, at={(421.35pt,30.15pt)}, width=90.15pt, height=140.85pt,
  xmin=10, xmax=15, ymin=12, ymax=16, xtick={10,15}, ytick={12,13,14,15,16},
  xlabel={pixel (u)}, ylabel={pixel (u)},
  xlabel style={at={(axis description cs:0.5,-0.156)}, anchor=center},
  ylabel style={at={(axis description cs:-0.276,0.5)}, anchor=center}]
\addplot[circ] table {
x y
10 12
11 12
12 12
13 12
14 12
15 12
10 13
11 13
12 13
13 13
14 13
15 13
10 14
11 14
12 14
13 14
14 14
15 14
10 15
11 15
12 15
13 15
14 15
15 15
10 16
11 16
12 16
13 16
14 16
15 16
};
\addplot[only marks, mark=*, mark size=0.35pt, black!60] coordinates {(11,16) (12,16) (13,16) (14,16) (15,16)};
\addplot[bigq] table {
x y u v
11 12 -.5 .31
12 12 -.54 .33
13 12 -.58 .355
14 12 -.7 .38
15 12 -.78 .4
11 13 -.57 .38
12 13 -.65 .4
13 13 -.72 .43
14 13 -.89 .43
15 13 -1.02 .43
11 14 -.67 .38
12 14 -.79 .4
13 14 0 .4
14 14 0 .4
15 14 0 .4
11 15 0 .4
12 15 0 .4
13 15 0 .4
14 15 0 .4
15 15 0 .4
};
\end{axis}
\end{tikzpicture}
\end{document}
